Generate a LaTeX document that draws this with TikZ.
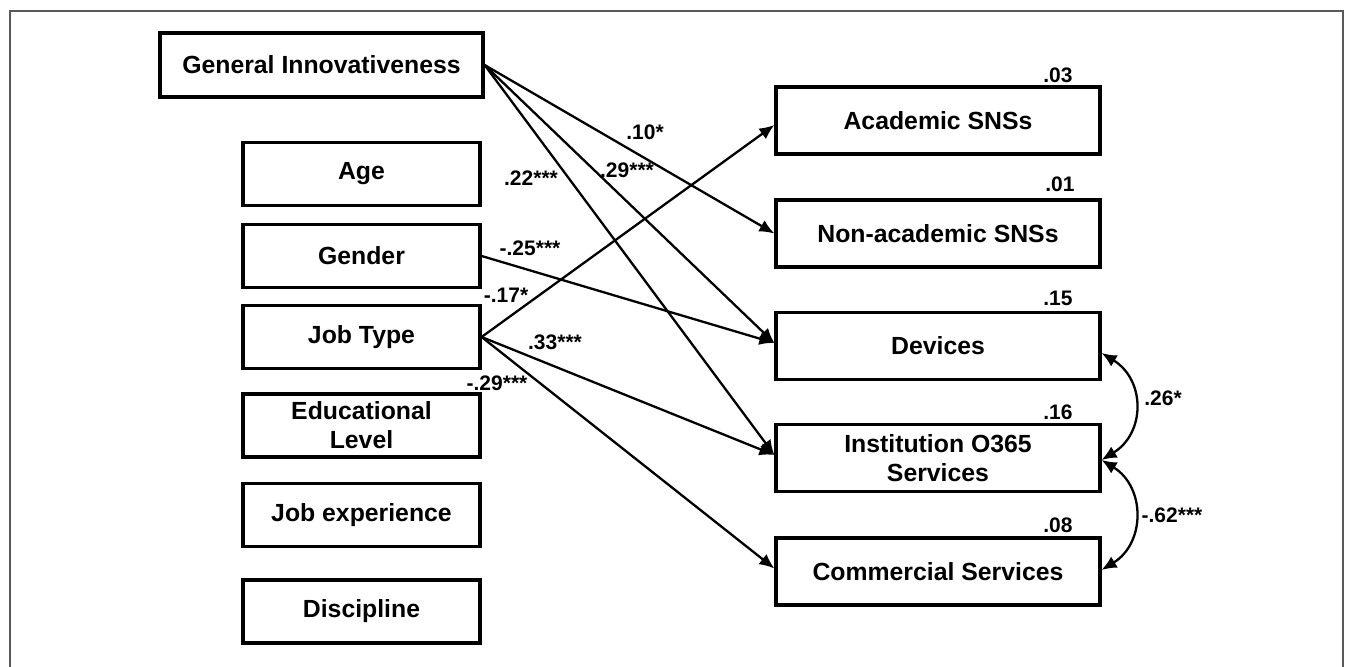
\documentclass[tikz,border=0pt]{standalone}
\usepackage{fontspec}
\setmainfont{Liberation Sans}
\usetikzlibrary{arrows.meta,calc}
\begin{document}
\begin{tikzpicture}[x=0.5pt,y=-0.5pt,
  box/.style={draw, line width=1.6pt, align=center, inner sep=0pt, font=\fontsize{12.4}{14.6}\selectfont\bfseries},
  lbox/.style={box, minimum width=118.5pt, minimum height=31.5pt},
  rbox/.style={box, minimum width=162pt, minimum height=33.5pt},
  lab/.style={font=\fontsize{10.5}{12}\selectfont\bfseries, inner sep=0pt},
  arr/.style={line width=1.15pt, -{Latex[length=7.5pt,width=6.5pt]}},
  darr/.style={line width=1.15pt, {Latex[length=7.5pt,width=6.5pt]}-{Latex[length=7.5pt,width=6.5pt]}},
  frame/.style={draw=black!65, line width=1pt}
  ]
\useasboundingbox (0,0) rectangle (1346,667);
\draw[frame] (10,667) -- (10,11) -- (1343,11) -- (1343,667);

% left boxes
\node[box, minimum width=161.5pt, minimum height=32pt] (gi) at (321.5,65) {General Innovativeness};
\node[lbox] (age) at (361.5,174) {Age};
\node[lbox] (gen) at (361.5,256) {Gender};
\node[lbox] (job) at (361.5,337) {Job Type};
\node[lbox] (edu) at (361.5,425.5) {Educational\\Level};
\node[lbox] (exp) at (361.5,515) {Job experience};
\node[lbox] (dis) at (361.5,611.5) {Discipline};

% right boxes
\node[rbox] (aca) at (938,120.5) {Academic SNSs};
\node[rbox] (non) at (938,233.5) {Non-academic SNSs};
\node[rbox] (dev) at (938,346) {Devices};
\node[rbox] (ins) at (938,458) {Institution O365\\Services};
\node[rbox] (com) at (938,571.5) {Commercial Services};

% R-squared labels
\node[lab] (r1) at (1058,75) {.03};
\node[lab] (r2) at (1060,184) {.01};
\node[lab] (r3) at (1058,298) {.15};
\node[lab] (r4) at (1058,412) {.16};
\node[lab] (r5) at (1058,525) {.08};

% paths
\draw[arr] (gi.east) -- (non.west);
\draw[arr] (gi.east) -- ($(dev.west)+(0,-3)$);
\draw[arr] (gi.east) -- ($(ins.west)+(0,-3)$);
\draw[arr] (gen.east) -- ($(dev.west)+(0,-3)$);
\draw[arr] (job.east) -- ($(aca.west)+(0,4.5)$);
\draw[arr] (job.east) -- ($(ins.west)+(0,-3)$);
\draw[arr] (job.east) -- ($(com.west)+(0,-3)$);

% path labels
\node[lab] (l10) at (645,132) {.10*};
\node[lab] (l29) at (627,170) {.29***};
\node[lab] (l22) at (531,178) {.22***};
\node[lab] (l25) at (530,248) {-.25***};
\node[lab] (l17) at (506,295) {-.17*};
\node[lab] (l33) at (555,342) {.33***};
\node[lab] (l29b) at (497,383) {-.29***};

% covariances
\coordinate (c1) at ($(dev.east)+(0,7)$);
\coordinate (c2) at ($(ins.east)+(0,2)$);
\coordinate (c3) at ($(com.east)+(0,-1.5)$);
\draw[darr] (c1) .. controls +(44,27) and +(44,-27) .. (c2);
\draw[darr] (c2) .. controls +(44,27) and +(44,-27) .. (c3);
\node[lab] (k1) at (1163,398) {.26*};
\node[lab] (k2) at (1172,515) {-.62***};
\end{tikzpicture}
\end{document}
